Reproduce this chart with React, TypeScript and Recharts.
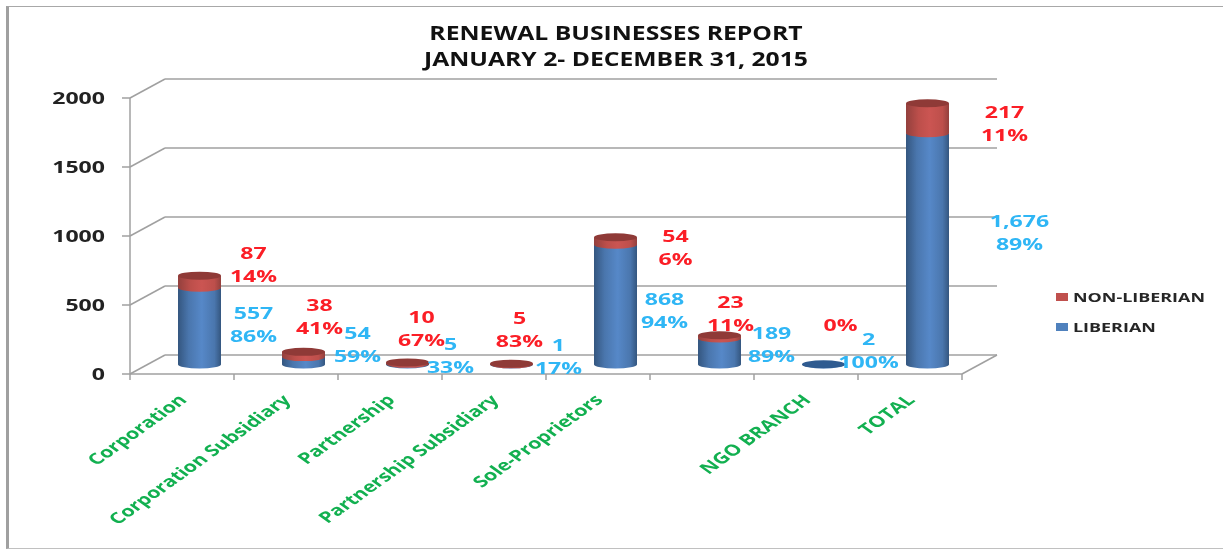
import React from "react";
import { BarChart, Bar, XAxis, YAxis, CartesianGrid, LabelList } from "recharts";

const categories = ["Corporation", "Corporation Subsidiary", "Partnership", "Partnership Subsidiary", "Sole-Proprietors", "", "NGO BRANCH", "TOTAL"];
const liberian = [557, 54, 5, 1, 868, 189, 2, 1676];
const nonLiberian = [87, 38, 10, 5, 54, 23, 0, 217];
const liberianText = ["557", "54", "5", "1", "868", "189", "2", "1,676"];
const liberianPct = ["86%", "59%", "33%", "17%", "94%", "89%", "100%", "89%"];
const nonLiberianText = ["87", "38", "10", "5", "54", "23", "", "217"];
const nonLiberianPct = ["14%", "41%", "67%", "83%", "6%", "11%", "0%", "11%"];
const yTicks = [0, 500, 1000, 1500, 2000];

// label placement relative to the top centre of the bar segment: [dx, dy]
const liberianOffset = [[54, 16], [54, -34], [43, -29], [47, -29], [49, 45], [52, -15], [45, -35], [92, 78]];
const nonLiberianOffset = [[54, -32], [16, -56], [14, -55], [8, -55], [60, -11], [11, -43], [17, -72], [77, -1]];

const data = categories.map((name, i) => ({ name, liberian: liberian[i], nonLiberian: nonLiberian[i] }));

const W = 1223, H = 550;
const M = { top: 98, right: 261, bottom: 176, left: 130 };
const DEPTH_X = 35, DEPTH_Y = 19;
const BAR_SHIFT_X = 17, BAR_SHIFT_Y = -9.5, RY = 4;
const GREY = "#a0a0a0";
const TXT_FONT = "'Open Sans', sans-serif";
const BLUE_TXT = "#2fb6f5", RED_TXT = "#fb1e26";
const BAND = (W - M.left - M.right) / categories.length;
const STRETCH = 1.4;

const stretched = (x: number, y: number) => `translate(${x} ${y}) scale(${STRETCH} 1) translate(${-x} ${-y})`;

const cyl = (fill: string, top: string, zeroTop: string | null) => (p: any) => {
  const x = p.x + BAR_SHIFT_X, w = p.width, y = p.y + BAR_SHIFT_Y, h = p.height;
  const rx = w / 2;
  const d = `M${x},${y} L${x},${y + h} A${rx},${RY} 0 0 0 ${x + w},${y + h} L${x + w},${y} Z`;
  const isZero = nonLiberian[p.index] === 0;
  return (
    <g>
      {h > 0 && <path d={d} fill={`url(#${fill})`} />}
      {zeroTop ? (isZero && <ellipse cx={x + rx} cy={y} rx={rx} ry={RY} fill={zeroTop} />) : (!isZero && <ellipse cx={x + rx} cy={y} rx={rx} ry={RY} fill={top} />)}
    </g>
  );
};

const labelContent = (lines1: string[], lines2: string[], off: number[][], color: string) => (p: any) => {
  const i = p.index;
  const cx = p.x + p.width / 2 + BAR_SHIFT_X + off[i][0];
  const y = p.y + off[i][1];
  const st: any = { fontFamily: TXT_FONT, fontWeight: 700, fontSize: 16.5, fill: color, textAnchor: "middle", dominantBaseline: "central" };
  return (
    <g>
      {lines1[i] && <text x={cx} y={y} transform={stretched(cx, y)} style={st}>{lines1[i]}</text>}
      <text x={cx} y={y + 23} transform={stretched(cx, y + 23)} style={st}>{lines2[i]}</text>
    </g>
  );
};

const gridLine = (p: any) => {
  const { x1, x2, y1 } = p;
  const atFloor = Math.abs(y1 - (H - M.bottom)) < 1;
  return (
    <g key={p.key ?? y1} stroke={GREY} strokeWidth={1.5} fill="none">
      <line x1={x1} y1={y1} x2={x1 + DEPTH_X} y2={y1 - DEPTH_Y} />
      <line x1={x1 + DEPTH_X} y1={y1 - DEPTH_Y} x2={x2 + DEPTH_X} y2={y1 - DEPTH_Y} />
      {atFloor && <line x1={x2} y1={y1} x2={x2 + DEPTH_X} y2={y1 - DEPTH_Y} />}
    </g>
  );
};

const CatTick = (p: any) => {
  const { x, payload, index } = p;
  const floor = H - M.bottom;
  const ax = x + 6, ay = floor + 27;
  return (
    <g>
      <line x1={x - BAND / 2} y1={floor} x2={x - BAND / 2} y2={floor + 6} stroke={GREY} strokeWidth={1.5} />
      {index === categories.length - 1 && <line x1={x + BAND / 2} y1={floor} x2={x + BAND / 2} y2={floor + 6} stroke={GREY} strokeWidth={1.5} />}
      <text x={ax} y={ay} textAnchor="end" transform={`translate(${ax} ${ay}) scale(1.4 1) rotate(-45) translate(${-ax} ${-ay})`}
        style={{ fontFamily: TXT_FONT, fontWeight: 700, fontSize: 15.3, fill: "#12b050" }}>{payload.value}</text>
    </g>
  );
};

const ValTick = (p: any) => {
  const { x, y, payload } = p;
  return (
    <text x={x} y={y} textAnchor="end" dominantBaseline="central" transform={stretched(x, y)}
      style={{ fontFamily: TXT_FONT, fontWeight: 700, fontSize: 16.5, fill: "#222" }}>{payload.value}</text>
  );
};

const LegendBox = () => (
  <div style={{ position: "absolute", left: 1056, top: 282 }}>
    {[["NON-LIBERIAN", "#c0504d"], ["LIBERIAN", "#4f81bd"]].map(([t, c]) => (
      <div key={t} style={{ height: 30, display: "flex", alignItems: "center", fontFamily: TXT_FONT, fontWeight: 700, fontSize: 12.8, color: "#262626", whiteSpace: "nowrap" }}>
        <span style={{ width: 12, height: 8, background: c, marginRight: 5, display: "inline-block" }} />
        <span style={{ display: "inline-block", transform: `scaleX(${STRETCH})`, transformOrigin: "left center" }}>{t}</span>
      </div>
    ))}
  </div>
);

export default function App() {
  return (
    <div style={{ position: "absolute", left: 0, top: 0, width: W, height: H, background: "#fff", overflow: "hidden", filter: "blur(0.4px)" }}>
      <div style={{ position: "absolute", left: 6, top: 6, width: W - 9, height: 541, borderLeft: "3px solid #a0a0a0", borderTop: "1.5px solid #a8a8a8", borderBottom: "1.5px solid #c0c0c0" }} />
      <div style={{ position: "absolute", left: 316, width: 600, top: 20, textAlign: "center", fontFamily: TXT_FONT, fontWeight: 700, fontSize: 19, lineHeight: "26px", color: "#111", transform: "scaleX(1.3)" }}>
        RENEWAL BUSINESSES REPORT<br />JANUARY 2- DECEMBER 31, 2015
      </div>
      <BarChart width={W} height={H} data={data} margin={{ top: M.top, right: M.right, left: 0, bottom: 0 }} barSize={43} style={{ position: "absolute", left: 0, top: 0 }}>
        <defs>
          <linearGradient id="blueG" x1="0" x2="1" y1="0" y2="0">
            <stop offset="0" stopColor="#34567f" />
            <stop offset="0.25" stopColor="#4a76ad" />
            <stop offset="0.55" stopColor="#5688c8" />
            <stop offset="0.85" stopColor="#4a76ad" />
            <stop offset="1" stopColor="#34567f" />
          </linearGradient>
          <linearGradient id="redG" x1="0" x2="1" y1="0" y2="0">
            <stop offset="0" stopColor="#93403d" />
            <stop offset="0.3" stopColor="#bd4f4b" />
            <stop offset="0.55" stopColor="#cb5552" />
            <stop offset="0.85" stopColor="#bd4f4b" />
            <stop offset="1" stopColor="#93403d" />
          </linearGradient>
        </defs>
        <CartesianGrid vertical={false} horizontal={gridLine} />
        <XAxis dataKey="name" interval={0} axisLine={{ stroke: GREY, strokeWidth: 1.5 }} tickLine={false} tick={CatTick} height={M.bottom} />
        <YAxis domain={[0, 2000]} ticks={yTicks} width={M.left} axisLine={{ stroke: GREY, strokeWidth: 1.5 }} tickLine={{ stroke: GREY, strokeWidth: 1.5 }} tickSize={8} tickMargin={17} tick={ValTick} />
        <Bar dataKey="liberian" stackId="a" isAnimationActive={false} shape={cyl("blueG", "#2f5b90", "#2f5b90")}>
          <LabelList content={labelContent(liberianText, liberianPct, liberianOffset, BLUE_TXT)} />
        </Bar>
        <Bar dataKey="nonLiberian" stackId="a" isAnimationActive={false} shape={cyl("redG", "#8f3a37", null)}>
          <LabelList content={labelContent(nonLiberianText, nonLiberianPct, nonLiberianOffset, RED_TXT)} />
        </Bar>
      </BarChart>
      <LegendBox />
    </div>
  );
}
